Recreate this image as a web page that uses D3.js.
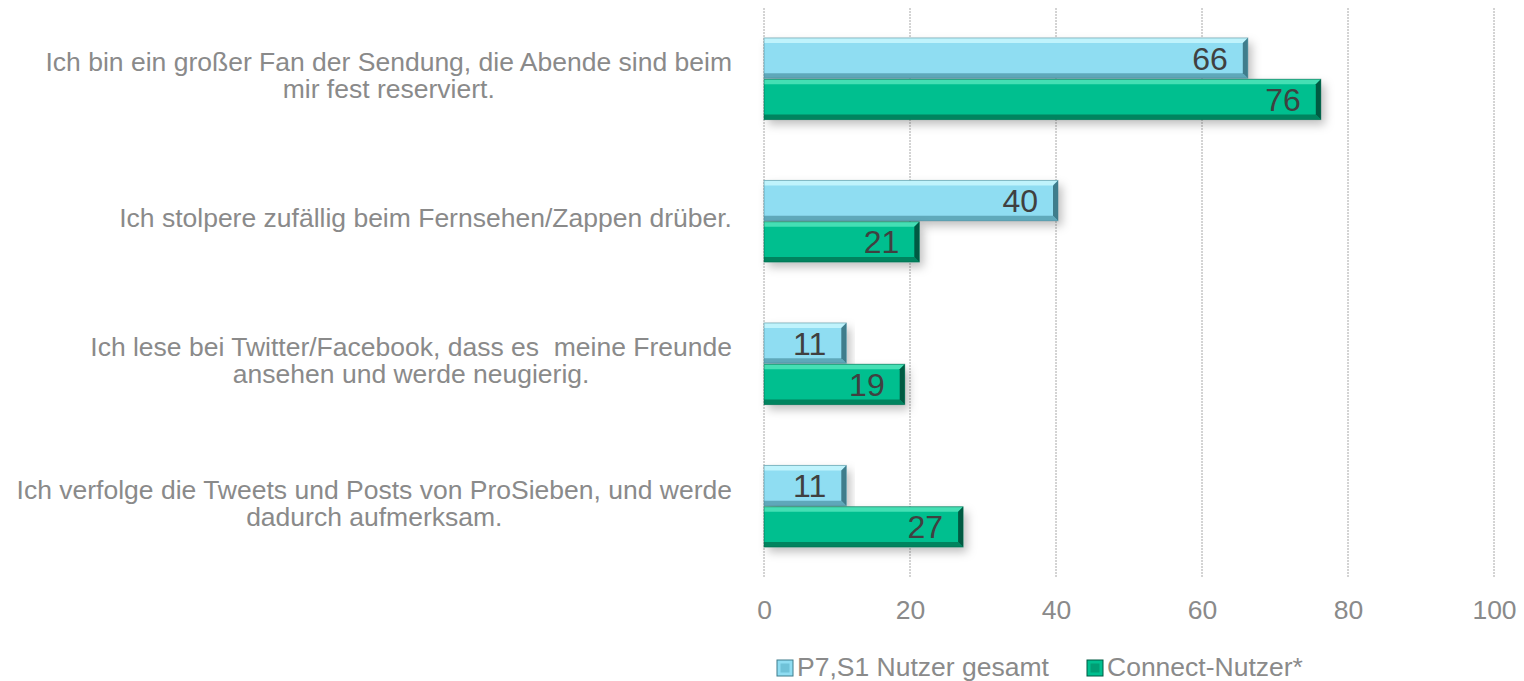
<!DOCTYPE html>
<html><head><meta charset="utf-8">
<script src="https://cdn.jsdelivr.net/npm/d3@7"></script>
<style>body{margin:0;background:#fff;} text{font-family:"Liberation Sans",Arial,sans-serif;}</style>
</head><body>
<svg id="chart" width="1524" height="681"></svg>
<script>
const categories = [
  ["Ich bin ein großer Fan der Sendung, die Abende sind beim", "mir fest reserviert."],
  ["Ich stolpere zufällig beim Fernsehen/Zappen drüber."],
  ["Ich lese bei Twitter/Facebook, dass es  meine Freunde", "ansehen und werde neugierig."],
  ["Ich verfolge die Tweets und Posts von ProSieben, und werde", "dadurch aufmerksam."]
];
const seriesNames = ["P7,S1 Nutzer gesamt", "Connect-Nutzer*"];
const seriesP7 = [66, 40, 11, 11];
const seriesConnect = [76, 21, 19, 27];
const tickValues = [0, 20, 40, 60, 80, 100];

(function () {
const svg = d3.select("#chart");
const pLeft = 764, pRight = 1494, pTop = 8, pBottom = 578;
const FS = 26.5;

const x = d3.scaleLinear().domain([0, 100]).range([pLeft, pRight]);
const y = d3.scaleBand().domain(d3.range(categories.length)).range([pTop, pBottom]).paddingInner(0.42).paddingOuter(0.21);
const ys = d3.scaleBand().domain([0, 1]).range([0, y.bandwidth()]);

const styles = [
  {base: "#8fddf2", hi: "#bff3fc", lo: "#5fa9bb", end: "#3f7d8c", legend: "#6fc2d8"},
  {base: "#00bf8f", hi: "#45dfb4", lo: "#00845f", end: "#005a42", legend: "#009e74"}
];

const defs = svg.append("defs");
const f = defs.append("filter").attr("id", "shadow").attr("x", "-5%").attr("y", "-30%").attr("width", "115%").attr("height", "180%");
f.append("feDropShadow").attr("dx", 4).attr("dy", 5).attr("stdDeviation", 5).attr("flood-color", "#000").attr("flood-opacity", 0.25);

// gridlines
svg.append("g").selectAll("line").data(tickValues).join("line")
  .attr("x1", d => x(d)).attr("x2", d => x(d))
  .attr("y1", pTop).attr("y2", pBottom)
  .attr("stroke", "#a8a8a8").attr("stroke-width", 1).attr("stroke-dasharray", "2,1");

// axis
const axis = d3.axisBottom(x).tickValues(tickValues).tickSize(0).tickPadding(0);
const ag = svg.append("g").attr("transform", `translate(0,${pBottom + 22})`).call(axis);
ag.select(".domain").remove();
ag.selectAll("text").attr("font-size", FS).attr("fill", "#8a8a8a").attr("dy", "0.72em")
  .style("font-family", '"Liberation Sans",Arial,sans-serif');

// bars
const data = [];
categories.forEach((c, i) => {
  data.push({cat: i, s: 0, v: seriesP7[i]});
  data.push({cat: i, s: 1, v: seriesConnect[i]});
});

const b = 5;
const bars = svg.append("g").selectAll("g.bar").data(data).join("g").attr("class", "bar");
bars.each(function(d) {
  const g = d3.select(this);
  const st = styles[d.s];
  const x0 = x(0), x1 = x(d.v) + 2;
  const y0 = y(d.cat) + ys(d.s), h = ys.bandwidth() - 1, y1 = y0 + h;
  g.append("rect").attr("x", x0).attr("y", y0).attr("width", x1 - x0).attr("height", h)
    .attr("fill", st.base).attr("filter", "url(#shadow)");
  g.append("path").attr("d", `M${x0},${y0}L${x1},${y0}L${x1 - b},${y0 + b}L${x0},${y0 + b}Z`).attr("fill", st.hi);
  g.append("path").attr("d", `M${x0},${y1}L${x1},${y1}L${x1 - b},${y1 - b}L${x0},${y1 - b}Z`).attr("fill", st.lo);
  g.append("path").attr("d", `M${x1},${y0}L${x1},${y1}L${x1 - b},${y1 - b}L${x1 - b},${y0 + b}Z`).attr("fill", st.end);
  g.append("rect").attr("x", x0).attr("y", y0).attr("width", x1 - x0).attr("height", h)
    .attr("fill", "none").attr("stroke", st.end).attr("stroke-opacity", 0.5).attr("stroke-width", 1);
  g.append("text").attr("x", x1 - 20).attr("y", y0 + h / 2).attr("dy", "0.36em")
    .attr("text-anchor", "end").attr("font-size", 32).attr("fill", "#404040").text(d.v);
});

// category labels
const labelRight = 732;
const lineH = 27;
categories.forEach((lines, i) => {
  const g = svg.append("g");
  const cy = y(i) + y.bandwidth() / 2 - 4;
  const texts = lines.map((l, j) => g.append("text").attr("font-size", FS).attr("fill", "#8a8a8a")
    .attr("text-anchor", "middle").attr("y", cy + (j - (lines.length - 1) / 2) * lineH).attr("dy", "0.36em")
    .style("white-space", "pre").text(l));
  const maxW = d3.max(texts, t => t.node().getComputedTextLength());
  texts.forEach(t => t.attr("x", labelRight - maxW / 2));
});

// legend
const legY = 666;
const lg = svg.append("g");
const legX = [777, 1087];
seriesNames.forEach((n, i) => {
  const st = styles[i];
  lg.append("rect").attr("x", legX[i]).attr("y", legY - 6).attr("width", 16).attr("height", 16).attr("fill", st.base).attr("stroke", st.end).attr("stroke-width", 1);
  lg.append("rect").attr("x", legX[i] + 3.5).attr("y", legY - 2.5).attr("width", 9).attr("height", 9).attr("fill", st.legend);
  lg.append("text").attr("x", legX[i] + 20).attr("y", legY).attr("dy", "0.36em").attr("font-size", FS).attr("fill", "#8a8a8a").text(n);
});
})();
</script>
</body></html>
